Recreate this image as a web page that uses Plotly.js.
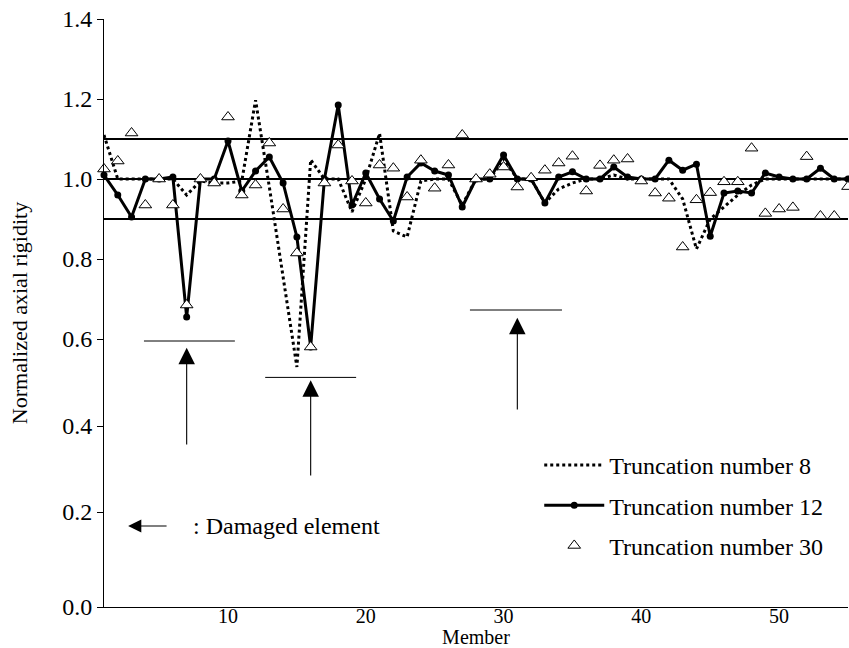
<!DOCTYPE html>
<html>
<head>
<meta charset="utf-8">
<script src="https://cdn.plot.ly/plotly-3.0.1.min.js"></script>
<style>
  html, body { margin: 0; padding: 0; background: #fff; }
  #chart { width: 849px; height: 648px; }
</style>
</head>
<body>
<div id="chart"></div>
<script>
// ---------- data ----------
const members = [1,2,3,4,5,6,7,8,9,10,11,12,13,14,15,16,17,18,19,20,21,22,23,24,25,26,27,28,29,30,31,32,33,34,35,36,37,38,39,40,41,42,43,44,45,46,47,48,49,50,51,52,53,54,55];

const trunc8 = [1.11,1.0,1.0,1.0,1.0,1.0,0.96,0.995,0.99,0.99,
                0.995,1.197,0.98,0.76,0.53,1.048,1.0,1.0,0.918,1.0,
                1.114,0.87,0.855,0.995,1.0,1.0,0.935,1.0,1.0,1.05,
                1.0,1.0,0.94,0.975,0.99,1.0,1.0,1.01,1.0,1.0,
                1.0,1.0,0.95,0.825,0.9,0.93,0.96,0.985,1.0,1.0,
                1.0,1.0,1.0,1.0,1.0];

const trunc12 = [1.01,0.96,0.905,1.0,1.0,1.005,0.655,1.0,1.0,1.095,
                 0.97,1.02,1.055,0.99,0.855,0.58,1.0,1.185,0.935,1.015,
                 0.95,0.895,1.005,1.04,1.02,1.01,0.93,1.0,1.0,1.06,
                 1.0,1.0,0.94,1.005,1.018,1.0,1.0,1.03,1.005,1.0,
                 1.0,1.047,1.022,1.037,0.857,0.965,0.97,0.965,1.015,1.005,
                 1.0,1.0,1.027,1.0,1.0];

const trunc30 = [1.025,1.045,1.115,0.935,1.0,0.935,0.685,1.0,0.99,1.155,
                 0.96,0.985,1.09,0.925,0.815,0.58,0.99,1.085,0.995,0.94,
                 1.035,1.027,0.955,1.047,0.977,1.035,1.11,1.0,1.012,1.03,
                 0.98,1.003,1.022,1.04,1.057,0.97,1.034,1.047,1.05,0.995,
                 0.965,0.952,0.83,0.948,0.966,0.993,0.993,1.077,0.914,0.925,
                 0.929,1.056,0.9075,0.9075,0.981];

const seriesNames = ['Truncation number 8', 'Truncation number 12', 'Truncation number 30'];
const refLevels = [0.9, 1.0, 1.1];
const xTickVals = [10, 20, 30, 40, 50];
// y tick labels, placed where the reference figure shows them
const yTickText = ['0.0', '0.2', '0.4', '0.6', '0.8', '1.0', '1.2', '1.4'];
const yTickVals = [-0.07, 0.1675, 0.3825, 0.6, 0.8, 1.0, 1.2, 1.4];
const damagedMembers = [7, 16, 31];
const axisTitles = { x: 'Member', y: 'Normalized axial rigidity' };
const noteText = ': Damaged element';

// ---------- traces ----------
const FONT = 'Liberation Serif, Times New Roman, serif';

const traces = [
  {
    x: members, y: trunc8, name: seriesNames[0], type: 'scatter', mode: 'lines',
    legendgroup: 'a',
    line: { color: '#000', width: 3, dash: '3px,3px' },
    cliponaxis: false
  },
  {
    x: members, y: trunc12, name: seriesNames[1], type: 'scatter', mode: 'lines+markers',
    legendgroup: 'b',
    line: { color: '#000', width: 3 },
    marker: { symbol: 'circle', size: 7, color: '#000' },
    cliponaxis: false
  },
  {
    x: members, y: trunc30, name: seriesNames[2], type: 'scatter', mode: 'markers',
    legendgroup: 'c',
    marker: { symbol: 'triangle-up', size: 11, color: '#fff', line: { color: '#000', width: 1 } },
    cliponaxis: false
  }
];

// ---------- shapes ----------
const shapes = refLevels.map(v => ({
  type: 'line', xref: 'paper', x0: 0, x1: 1, yref: 'y', y0: v, y1: v,
  line: { color: '#000', width: 2 }, layer: 'below'
}));

// damage marker bars (horizontal) and arrows
const barSpans = [[3.9, 10.5, 0.595], [12.7, 19.3, 0.504], [27.56, 34.24, 0.6725]];
const arrowTips = [0.578, 0.497, 0.653];
const arrowTails = [0.3325, 0.255, 0.42];

barSpans.forEach(s => shapes.push({
  type: 'line', xref: 'x', yref: 'y', x0: s[0], x1: s[1], y0: s[2], y1: s[2],
  line: { color: '#000', width: 1 }
}));

const annotations = damagedMembers.map((m, i) => ({
  x: m, y: arrowTips[i], xref: 'x', yref: 'y',
  ax: m, ay: arrowTails[i], axref: 'x', ayref: 'y',
  text: '', showarrow: true, arrowhead: 2, arrowsize: 3, arrowwidth: 1.1,
  arrowcolor: '#000', standoff: 0, startstandoff: 0
}));

// "<- : Damaged element" note
annotations.push({
  x: 2.75, y: 0.1325, xref: 'x', yref: 'y',
  ax: 5.65, ay: 0.1325, axref: 'x', ayref: 'y',
  text: '', showarrow: true, arrowhead: 2, arrowsize: 2.2, arrowwidth: 1.2,
  arrowcolor: '#000', standoff: 0
});
annotations.push({
  x: 7.3, y: 0.1325, xref: 'x', yref: 'y', xanchor: 'left', yanchor: 'middle',
  text: noteText, showarrow: false, font: { family: FONT, size: 24, color: '#000' }
});

const layout = {
  width: 849, height: 648,
  margin: { l: 104, r: 1, t: 19, b: 41 },
  paper_bgcolor: '#fff', plot_bgcolor: '#fff',
  font: { family: FONT, size: 24, color: '#000' },
  showlegend: true,
  legend: {
    x: 0.585, y: 0.279, xanchor: 'left', yanchor: 'top',
    bgcolor: 'rgba(0,0,0,0)', borderwidth: 0,
    traceorder: 'grouped', tracegroupgap: 6, itemwidth: 60,
    font: { family: FONT, size: 24, color: '#000' }
  },
  xaxis: {
    range: [1, 55], tickvals: xTickVals, ticks: '', showline: true, linecolor: '#000', linewidth: 1,
    showgrid: false, zeroline: false, ticklabelstandoff: -9,
    tickfont: { family: FONT, size: 20, color: '#000' },
    title: { text: axisTitles.x, font: { family: FONT, size: 20, color: '#000' }, standoff: 0 }
  },
  yaxis: {
    range: [-0.07, 1.4], tickvals: yTickVals, ticktext: yTickText, ticks: 'outside', ticklen: 6, tickcolor: '#000',
    showline: true, linecolor: '#000', linewidth: 1, showgrid: false, zeroline: false,
    tickfont: { family: FONT, size: 24, color: '#000' },
    title: { text: axisTitles.y, font: { family: FONT, size: 22, color: '#000' }, standoff: 28 }
  },
  shapes: shapes,
  annotations: annotations
};

Plotly.newPlot('chart', traces, layout, { displayModeBar: false, staticPlot: true });
</script>
</body>
</html>
